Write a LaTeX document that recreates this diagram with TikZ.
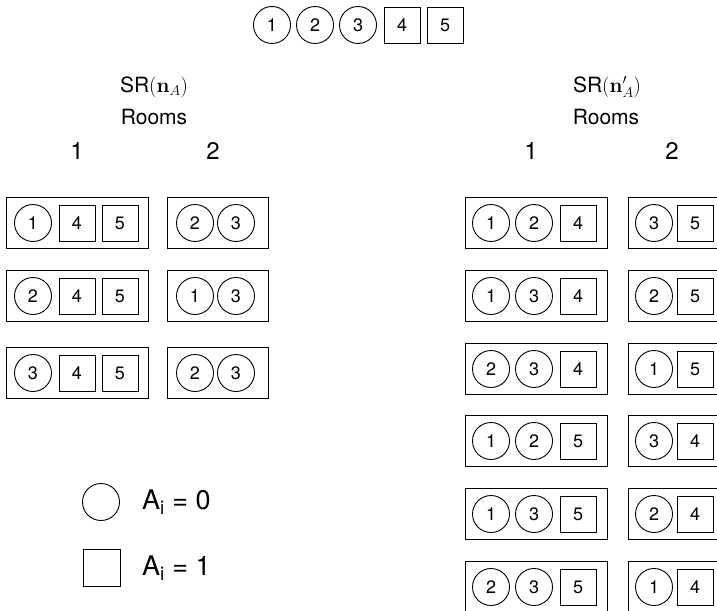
\documentclass[tikz,border=0pt]{standalone}
\usepackage[no-math]{fontspec}
\setmainfont{TeX Gyre Heros}
\begin{document}
\begin{tikzpicture}[x=1pt,y=-1pt,
  cnum/.style={circle, draw, line width=0.9pt, minimum size=37pt, inner sep=0pt, font=\fontsize{18}{18}\selectfont},
  snum/.style={rectangle, draw, line width=0.9pt, minimum size=36pt, inner sep=0pt, font=\fontsize{18}{18}\selectfont},
  roombox/.style={rectangle, draw, line width=0.9pt, minimum height=51pt, inner sep=0pt},
  hdr/.style={font=\fontsize{21}{21}\selectfont, inner sep=0pt},
  hnum/.style={font=\fontsize{24}{24}\selectfont, inner sep=0pt},
  leg/.style={font=\fontsize{27}{27}\selectfont, inner sep=0pt, anchor=west}]
\useasboundingbox (0,0) rectangle (717,610);
% top row
\node[cnum] (t1) at (272,25) {1};
\node[cnum] (t2) at (315,25) {2};
\node[cnum] (t3) at (358,25) {3};
\node[snum] (t4) at (402,25) {4};
\node[snum] (t5) at (445,25) {5};
% headers
\node[hdr] (srl) at (154,87) {SR$(\mathbf{n}_A)$};
\node[hdr] (rml) at (154,117) {Rooms};
\node[hnum] (l1) at (77,151) {1};
\node[hnum] (l2) at (213,151) {2};
\node[hdr] (srr) at (607,87) {SR$(\mathbf{n}'_A)$};
\node[hdr] (rmr) at (606,117) {Rooms};
\node[hnum] (r1) at (531,151) {1};
\node[hnum] (r2) at (672,151) {2};
% left configurations
\foreach \y/\a/\b/\c/\n in {223/1/2/3/1, 296/2/1/3/2, 373/3/2/3/3}{
  \node[roombox, minimum width=142pt] (L\n A) at (77,\y) {};
  \node[cnum] (L\n a) at (33,\y) {\a};
  \node[snum] (L\n b) at (77,\y) {4};
  \node[snum] (L\n c) at (120,\y) {5};
  \node[roombox, minimum width=101pt] (L\n B) at (217.5,\y) {};
  \node[cnum] (L\n d) at (195,\y) {\b};
  \node[cnum] (L\n e) at (236,\y) {\c};
}
% right configurations
\foreach \y/\a/\b/\c/\d/\e/\n in {223/1/2/4/3/5/1, 296/1/3/4/2/5/2, 369/2/3/4/1/5/3, 441/1/2/5/3/4/4, 514/1/3/5/2/4/5, 587/2/3/5/1/4/6}{
  \node[roombox, minimum width=142pt] (R\n A) at (536,\y) {};
  \node[cnum] (R\n a) at (491,\y) {\a};
  \node[cnum] (R\n b) at (534,\y) {\b};
  \node[snum] (R\n c) at (578,\y) {\c};
  \node[roombox, minimum width=96pt] (R\n B) at (676,\y) {};
  \node[cnum] (R\n d) at (654,\y) {\d};
  \node[snum] (R\n e) at (695,\y) {\e};
}
% legend
\node[cnum] (lc) at (101,502) {};
\node[leg] (lct) at (142,502) {A\textsubscript{i} = 0};
\node[snum, minimum size=37pt] (ls) at (102,568) {};
\node[leg] (lst) at (142,568) {A\textsubscript{i} = 1};
\end{tikzpicture}
\end{document}
